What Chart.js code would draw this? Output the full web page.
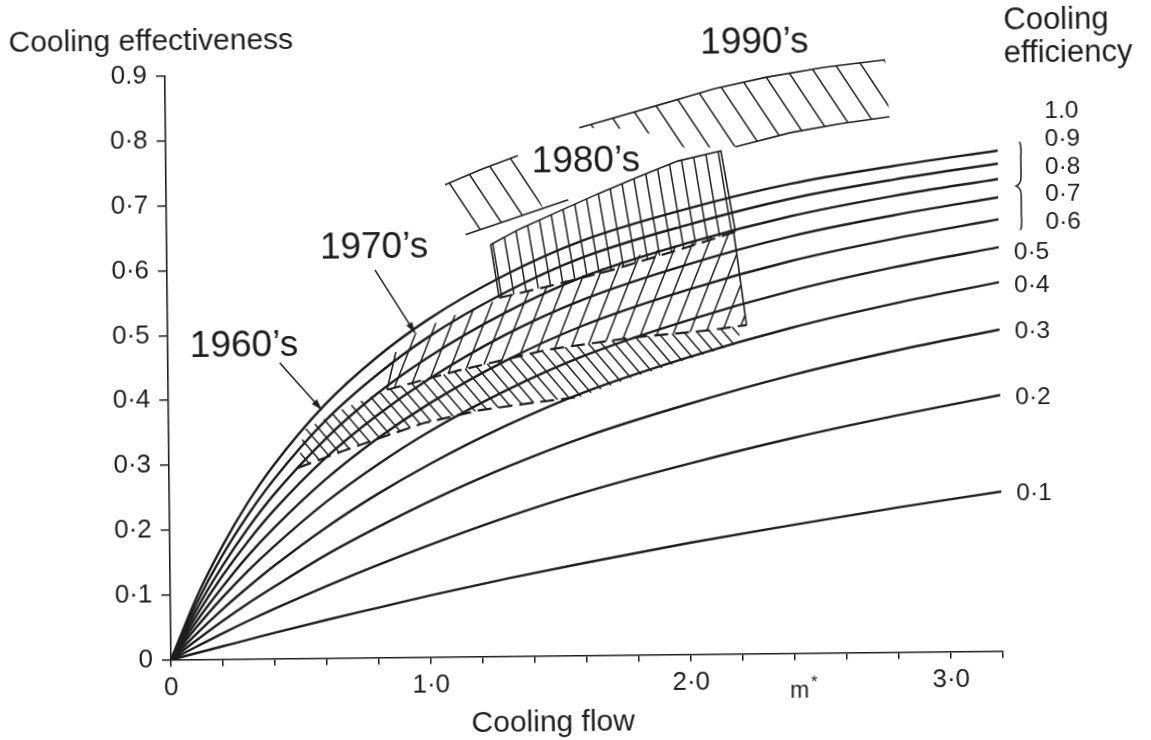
<!DOCTYPE html>
<html>
<head>
<meta charset="utf-8">
<script src="https://cdn.jsdelivr.net/npm/chart.js@4.4.1/dist/chart.umd.min.js"></script>
<style>
  html, body { margin: 0; padding: 0; background: #fff; overflow: hidden; }
  /* the printed figure sits a little tilted on the page */
  canvas { display: block; transform: rotate(-0.6deg); }
</style>
</head>
<body>
<canvas id="chart" width="1151" height="740"></canvas>
<script>
// cooling flow m* at which the curves were read
const coolingFlow = [0, 0.1, 0.2, 0.3, 0.4, 0.6, 0.8, 1.0, 1.3, 1.6, 2.0, 2.4, 2.8, 3.2];

// cooling effectiveness, one list per cooling efficiency
const eff10 = [0, 0.095, 0.173, 0.240, 0.297, 0.390, 0.462, 0.520, 0.588, 0.640, 0.687, 0.724, 0.750, 0.772];
const eff09 = [0, 0.086, 0.159, 0.221, 0.275, 0.365, 0.435, 0.493, 0.561, 0.614, 0.662, 0.701, 0.729, 0.752];
const eff08 = [0, 0.077, 0.143, 0.201, 0.252, 0.337, 0.406, 0.462, 0.530, 0.584, 0.634, 0.674, 0.704, 0.728];
const eff07 = [0, 0.068, 0.128, 0.181, 0.228, 0.308, 0.373, 0.428, 0.496, 0.549, 0.601, 0.643, 0.674, 0.700];
const eff06 = [0, 0.059, 0.111, 0.159, 0.201, 0.275, 0.337, 0.390, 0.456, 0.509, 0.562, 0.605, 0.638, 0.666];
const eff05 = [0, 0.050, 0.095, 0.136, 0.173, 0.240, 0.297, 0.347, 0.410, 0.462, 0.515, 0.559, 0.594, 0.623];
const eff04 = [0, 0.040, 0.077, 0.111, 0.143, 0.201, 0.252, 0.297, 0.356, 0.406, 0.458, 0.502, 0.538, 0.569];
const eff03 = [0, 0.030, 0.059, 0.086, 0.111, 0.159, 0.201, 0.240, 0.292, 0.337, 0.386, 0.429, 0.465, 0.496];
const eff02 = [0, 0.020, 0.040, 0.059, 0.077, 0.111, 0.143, 0.173, 0.215, 0.252, 0.294, 0.332, 0.365, 0.395];
const eff01 = [0, 0.010, 0.020, 0.030, 0.040, 0.059, 0.077, 0.095, 0.120, 0.143, 0.172, 0.198, 0.223, 0.246];
const curveNames = ['1.0', '0·9', '0·8', '0·7', '0·6', '0·5', '0·4', '0·3', '0·2', '0·1'];

// hatched technology bands, outline as [m*, effectiveness]
const band1960 = [[0.519, 0.352], [0.681, 0.386], [0.842, 0.413], [1.123, 0.442], [1.458, 0.472], [1.777, 0.489],
  [2.096, 0.500], [2.219, 0.507], [2.181, 0.477], [1.969, 0.451], [1.777, 0.427], [1.585, 0.399], [1.392, 0.390],
  [1.200, 0.380], [0.981, 0.361], [0.815, 0.339], [0.662, 0.318], [0.496, 0.294]];
const band1970 = [[0.877, 0.471], [0.969, 0.505], [1.123, 0.530], [1.304, 0.554], [1.585, 0.584], [1.842, 0.620],
  [2.181, 0.651], [2.227, 0.507], [2.096, 0.500], [1.777, 0.489], [1.458, 0.472], [1.123, 0.442], [0.842, 0.413]];
const band1980 = [[1.246, 0.635], [1.354, 0.658], [1.508, 0.685], [1.662, 0.712], [1.815, 0.737], [1.969, 0.761],
  [2.135, 0.776], [2.188, 0.651], [1.969, 0.624], [1.712, 0.594], [1.458, 0.569], [1.277, 0.553]];
const band1990a = [[1.073, 0.728], [1.212, 0.751], [1.354, 0.772], [1.450, 0.690], [1.150, 0.651]];
const band1990b = [[1.592, 0.814], [1.892, 0.847], [2.112, 0.872], [2.315, 0.889], [2.535, 0.903], [2.770, 0.914],
  [2.785, 0.826], [2.596, 0.816], [2.404, 0.803], [2.192, 0.782], [2.000, 0.781], [1.815, 0.811]];

const xTickLabels = ['0', '1·0', '2·0', '3·0'];
const yTickLabels = ['0', '0·1', '0·2', '0·3', '0·4', '0·5', '0·6', '0·7', '0·8', '0.9'];

const FONT = "'Liberation Sans', Arial, Helvetica, sans-serif";
const INK = '#1e1e1e';

// hatch direction (degrees, screen space) and spacing per band
const hatches = [
  { pts: band1960, angle: 50, gap: 10 },
  { pts: band1970, angle: -68, gap: 15 },
  { pts: band1980, angle: 81, gap: 12.5 },
  { pts: band1990a, angle: 57, gap: 21.5 },
  { pts: band1990b, angle: 57, gap: 21.5 }
];

// drawn edges of the bands
const outlines = [
  { pts: band1990a.slice(0, 3) },
  { pts: [band1990a[4], [1.546, 0.703]] },
  { pts: band1990b.slice(0, 6) },
  { pts: band1990b.slice(6, 10).reverse() },
  { pts: band1980.slice(0, 8) },
  { pts: [band1980[0], band1980[11]] },
  { pts: band1980.slice(7).reverse(), dash: true },
  { pts: [band1970[6], band1970[7]] },
  { pts: [band1970[12], band1970[0]] },
  { pts: band1970.slice(7).reverse(), dash: true },
  { pts: band1960.slice(11).reverse(), dash: true }
];

const notes = {
  decades: [
    { text: '1990’s', at: [2.06, 0.926] },
    { text: '1980’s', at: [1.407, 0.746] },
    { text: '1970’s', at: [0.589, 0.616] },
    { text: '1960’s', at: [0.085, 0.467] }
  ],
  arrows: [
    { from: [0.80, 0.598], to: [0.952, 0.500] },
    { from: [0.43, 0.456], to: [0.59, 0.383] }
  ],
  labelLevels: [0.832, 0.789, 0.746, 0.704, 0.660, 0.615, 0.564, 0.492, 0.390, 0.242]
};

function toPx(chart, p) {
  return [chart.scales.x.getPixelForValue(p[0]), chart.scales.y.getPixelForValue(p[1])];
}

function trace(ctx, chart, pts, close) {
  ctx.beginPath();
  pts.forEach((p, i) => {
    const [x, y] = toPx(chart, p);
    if (i) ctx.lineTo(x, y); else ctx.moveTo(x, y);
  });
  if (close) ctx.closePath();
}

// parallel lines clipped to the band outline
function hatch(ctx, chart, pts, angle, gap) {
  const xy = pts.map(p => toPx(chart, p));
  const xs = xy.map(p => p[0]), ys = xy.map(p => p[1]);
  const x0 = Math.min(...xs), x1 = Math.max(...xs), y0 = Math.min(...ys), y1 = Math.max(...ys);
  const a = angle * Math.PI / 180;
  const dx = Math.cos(a), dy = Math.sin(a);
  const nx = -dy, ny = dx;
  const proj = [[x0, y0], [x1, y0], [x0, y1], [x1, y1]].map(c => c[0] * nx + c[1] * ny);
  const pmin = Math.min(...proj), pmax = Math.max(...proj);
  const half = Math.hypot(x1 - x0, y1 - y0);
  const tc = ((x0 + x1) / 2) * dx + ((y0 + y1) / 2) * dy;

  ctx.save();
  trace(ctx, chart, pts, true);
  ctx.clip();
  ctx.beginPath();
  for (let p = Math.ceil(pmin / gap) * gap; p <= pmax; p += gap) {
    ctx.moveTo(p * nx + (tc - half) * dx, p * ny + (tc - half) * dy);
    ctx.lineTo(p * nx + (tc + half) * dx, p * ny + (tc + half) * dy);
  }
  ctx.lineWidth = 1.5;
  ctx.stroke();
  ctx.restore();
}

function arrow(ctx, chart, from, to) {
  const [x0, y0] = toPx(chart, from);
  const [x1, y1] = toPx(chart, to);
  const a = Math.atan2(y1 - y0, x1 - x0);
  ctx.beginPath();
  ctx.moveTo(x0, y0);
  ctx.lineTo(x1, y1);
  ctx.lineWidth = 1.5;
  ctx.stroke();
  ctx.beginPath();
  ctx.moveTo(x1, y1);
  ctx.lineTo(x1 - 11 * Math.cos(a) + 3.5 * Math.sin(a), y1 - 11 * Math.sin(a) - 3.5 * Math.cos(a));
  ctx.lineTo(x1 - 11 * Math.cos(a) - 3.5 * Math.sin(a), y1 - 11 * Math.sin(a) + 3.5 * Math.cos(a));
  ctx.closePath();
  ctx.fill();
}

const overlay = {
  id: 'overlay',
  beforeDatasetsDraw(chart) {
    const ctx = chart.ctx;
    ctx.save();
    ctx.strokeStyle = INK;
    hatches.forEach(h => hatch(ctx, chart, h.pts, h.angle, h.gap));
    outlines.forEach(o => {
      trace(ctx, chart, o.pts, false);
      ctx.setLineDash(o.dash ? [14, 7] : []);
      ctx.lineWidth = o.dash ? 2.2 : 1.6;
      ctx.stroke();
    });
    ctx.restore();
  },
  afterDraw(chart) {
    const ctx = chart.ctx;
    const area = chart.chartArea;
    const xS = chart.scales.x;
    const yS = chart.scales.y;
    ctx.save();
    ctx.fillStyle = INK;
    ctx.strokeStyle = INK;
    ctx.textBaseline = 'alphabetic';
    ctx.textAlign = 'left';

    // axis titles
    ctx.font = '30px ' + FONT;
    ctx.fillText('Cooling effectiveness', area.left - 156, area.top - 26.5);
    ctx.fillText('Cooling flow', xS.getPixelForValue(1.153), area.bottom + 75);
    ctx.font = '23px ' + FONT;
    ctx.fillText('m', xS.getPixelForValue(2.38), area.bottom + 44);
    ctx.font = '17px ' + FONT;
    ctx.fillText('*', xS.getPixelForValue(2.38) + 21, area.bottom + 34);
    ctx.font = '31px ' + FONT;
    ctx.fillText('Cooling', area.right + 7, 34);
    ctx.fillText('efficiency', area.right + 7, 67);

    // decade labels and pointers
    ctx.font = '37px ' + FONT;
    notes.decades.forEach(d => {
      const [x, y] = toPx(chart, d.at);
      ctx.fillText(d.text, x, y);
    });
    notes.arrows.forEach(a => arrow(ctx, chart, a.from, a.to));

    // efficiency labels at the curve ends
    ctx.font = '24.5px ' + FONT;
    ctx.textBaseline = 'middle';
    curveNames.forEach((name, i) => {
      const x = i < 5 ? area.right + 47 : area.right + 15;
      ctx.fillText(name, x, yS.getPixelForValue(notes.labelLevels[i]));
    });

    // brace grouping 0.9 ... 0.6
    const bx = area.right + 23;
    const bt = yS.getPixelForValue(0.785), bb = yS.getPixelForValue(0.649);
    const bm = (bt + bb) / 2;
    ctx.beginPath();
    ctx.moveTo(bx - 1, bt);
    ctx.quadraticCurveTo(bx + 1, bt + 6, bx, bt + 14);
    ctx.lineTo(bx, bm - 9);
    ctx.quadraticCurveTo(bx, bm - 2, bx - 5, bm);
    ctx.quadraticCurveTo(bx, bm + 2, bx, bm + 9);
    ctx.lineTo(bx, bb - 14);
    ctx.quadraticCurveTo(bx + 1, bb - 6, bx - 1, bb);
    ctx.lineWidth = 1.5;
    ctx.stroke();
    ctx.restore();
  }
};

const curves = [eff10, eff09, eff08, eff07, eff06, eff05, eff04, eff03, eff02, eff01];

new Chart(document.getElementById('chart'), {
  type: 'scatter',
  data: {
    datasets: curves.map((vals, i) => ({
      label: curveNames[i],
      data: vals.map((v, k) => ({ x: coolingFlow[k], y: v })),
      showLine: true,
      borderColor: INK,
      borderWidth: 2.4,
      pointRadius: 0,
      cubicInterpolationMode: 'monotone',
      fill: false
    }))
  },
  options: {
    responsive: false,
    animation: false,
    devicePixelRatio: 1,
    layout: { padding: { top: 72, right: 151, left: 0, bottom: 0 } },
    plugins: { legend: { display: false }, tooltip: { enabled: false } },
    scales: {
      x: {
        type: 'linear',
        min: 0,
        max: 3.2,
        afterFit: s => { s.height = 84.5; },
        ticks: {
          stepSize: 0.2,
          autoSkip: false,
          maxRotation: 0,
          padding: 6,
          color: INK,
          font: { family: FONT, size: 26 },
          callback: v => {
            const r = Math.round(v);
            return Math.abs(v - r) < 1e-6 ? xTickLabels[r] : '';
          }
        },
        grid: { drawOnChartArea: false, tickLength: 7, color: INK, lineWidth: 1.5 },
        border: { color: INK, width: 1.6 }
      },
      y: {
        type: 'linear',
        min: 0,
        max: 0.9,
        afterFit: s => { s.width = 168; },
        ticks: {
          stepSize: 0.1,
          padding: 9,
          color: INK,
          font: { family: FONT, size: 26 },
          callback: v => yTickLabels[Math.round(v * 10)]
        },
        grid: { drawOnChartArea: false, tickLength: 9, color: INK, lineWidth: 1.5 },
        border: { color: INK, width: 1.6 }
      }
    }
  },
  plugins: [overlay]
});
</script>
</body>
</html>
